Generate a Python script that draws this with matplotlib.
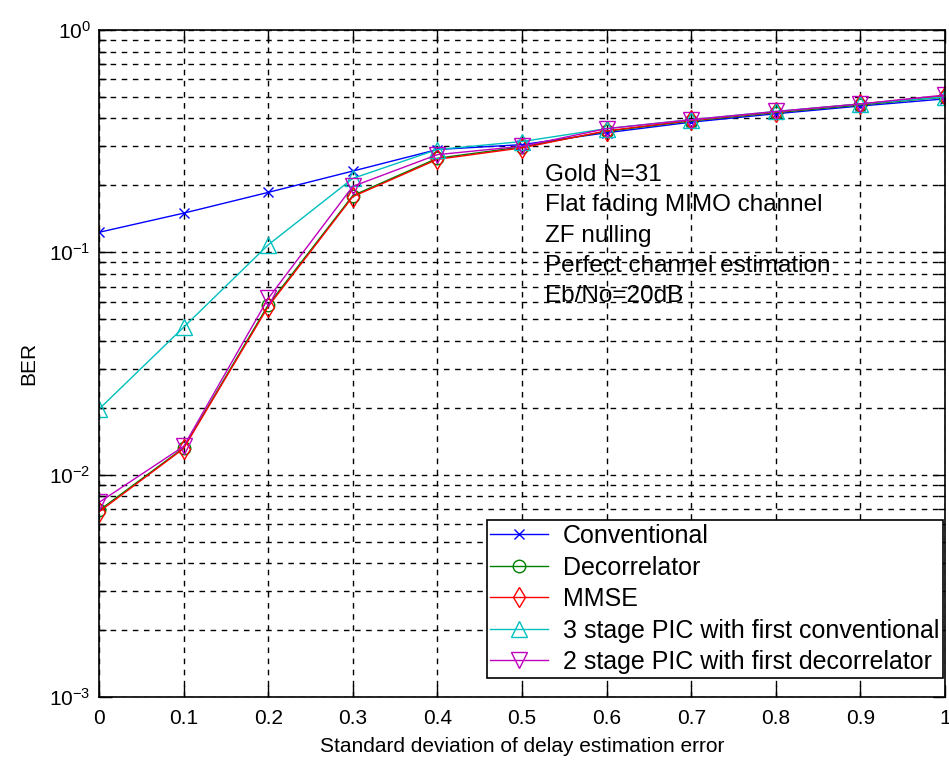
import numpy as np
import matplotlib
matplotlib.use("Agg")
import matplotlib.pyplot as plt
from matplotlib.ticker import LogLocator, NullFormatter, FixedLocator

plt.rcParams["font.family"] = ["Liberation Sans", "DejaVu Sans"]

# ── data ─────────────────────────────────────────────────────────────────────
sigma = [0.0, 0.1, 0.2, 0.3, 0.4, 0.5, 0.6, 0.7, 0.8, 0.9, 1.0]
ber_conv = [0.123, 0.150, 0.186, 0.232, 0.290, 0.305, 0.345, 0.385, 0.420, 0.455, 0.490]
ber_decorr = [0.0069, 0.0132, 0.058, 0.180, 0.265, 0.298, 0.350, 0.390, 0.425, 0.460, 0.500]
ber_mmse = [0.0068, 0.0131, 0.057, 0.178, 0.262, 0.295, 0.352, 0.392, 0.428, 0.465, 0.505]
ber_pic3 = [0.0197, 0.046, 0.108, 0.215, 0.290, 0.315, 0.360, 0.395, 0.430, 0.465, 0.500]
ber_pic2 = [0.0075, 0.0134, 0.062, 0.198, 0.275, 0.300, 0.360, 0.395, 0.430, 0.465, 0.510]

labels = ["Conventional", "Decorrelator", "MMSE",
          "3 stage PIC with first conventional",
          "2 stage PIC with first decorrelator"]
annot = ["Gold N=31", "Flat fading MIMO channel", "ZF nulling",
         "Perfect channel estimation", "Eb/No=20dB"]
x_ticks = [0, 0.1, 0.2, 0.3, 0.4, 0.5, 0.6, 0.7, 0.8, 0.9, 1]

fig = plt.figure(figsize=(9.49, 7.67), dpi=100)
ax = fig.add_axes([0.1043, 0.0913, 0.8915, 0.8696])

series = [
    (ber_conv,   dict(color="#0000ff", marker="x", ms=7)),
    (ber_decorr, dict(color="#008000", marker="o", ms=9, mfc="none")),
    (ber_mmse,   dict(color="#ff0000", marker="d", ms=10, mfc="none")),
    (ber_pic3,   dict(color="#00bfbf", marker="^", ms=11, mfc="none")),
    (ber_pic2,   dict(color="#bf00bf", marker="v", ms=11, mfc="none")),
]
for (vals, st), lab in zip(series, labels):
    ax.semilogy(sigma, vals, lw=1.0, mew=1.0, label=lab, **st)

ax.set_xlim(0, 1)
ax.set_ylim(1e-3, 1)
ax.xaxis.set_major_locator(FixedLocator(x_ticks))
ax.set_xticklabels(["0", "0.1", "0.2", "0.3", "0.4", "0.5", "0.6", "0.7", "0.8", "0.9", "1"])
ax.yaxis.set_major_locator(LogLocator(base=10, numticks=10))
ax.yaxis.set_minor_locator(LogLocator(base=10, subs=np.arange(2, 10), numticks=20))
ax.yaxis.set_minor_formatter(NullFormatter())

ax.grid(True, which="both", axis="y", color="black", ls=(0, (4, 4)), lw=1.0)
ax.grid(True, which="major", axis="x", color="black", ls=(0, (4, 4)), lw=1.0)
ax.tick_params(which="both", direction="in", top=True, right=True, labelsize=15, width=1.0)
ax.tick_params(which="major", length=9)
ax.tick_params(which="minor", length=5)
ax.tick_params(axis="x", pad=9)
ax.tick_params(axis="y", pad=6)
for sp in ax.spines.values():
    sp.set_linewidth(1.2)

ax.set_xlabel("Standard deviation of delay estimation error", fontsize=15, labelpad=6)
ax.set_ylabel("BER", fontsize=15, labelpad=8)

ax.text(0.527, 0.249, "\n".join(annot), fontsize=17.5, va="top", ha="left",
        linespacing=1.48, transform=ax.transData)

leg = ax.legend(loc="lower right", bbox_to_anchor=(0.9976, 0.0285),
                fontsize=18, fancybox=False, framealpha=1,
                edgecolor="black", borderaxespad=0.0, handlelength=2.3,
                handletextpad=0.6, labelspacing=0.3, borderpad=0.15)
leg.get_frame().set_linewidth(1.2)

fig.savefig("out.png", dpi=100, facecolor="white")
